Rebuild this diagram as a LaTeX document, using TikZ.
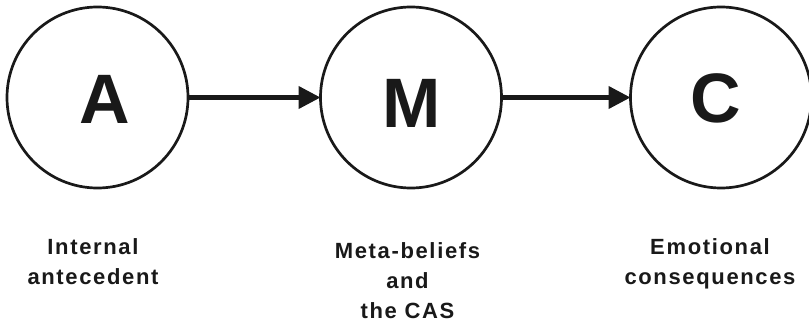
\documentclass[tikz,border=0pt]{standalone}
\usepackage{fontspec}
\setmainfont{Liberation Sans}
\newfontfamily\labelfont[LetterSpace=7.5]{Liberation Sans}
\usetikzlibrary{arrows.meta}
\begin{document}
\begin{tikzpicture}[x=1pt,y=-1pt,
  stage/.style={circle,draw=black!90,line width=2.7pt,minimum size=181pt,inner sep=0pt,outer sep=0pt},
  letter/.style={anchor=base,inner sep=0pt,font=\fontsize{70}{70}\selectfont\bfseries,text=black!90},
  caption/.style={anchor=base,inner sep=0pt,align=center,text=black!90,
    font=\fontsize{22}{30}\selectfont\labelfont\bfseries},
  link/.style={line width=4.2pt,draw=black!90,-{Triangle[length=22pt,width=22pt]},shorten <=-1pt}]
  \useasboundingbox (0,0) rectangle (809,321);

  % the three stages of the model
  \node[stage] (A) at (97.5,97.5) {};
  \node[stage] (M) at (411,97.5) {};
  \node[stage] (C) at (721,97.5) {};

  \node[letter] (la) at (105,123) {A};
  \node[letter] (lm) at (411.5,128) {M};
  \node[letter] (lc) at (715.5,122.5) {C};

  % links between the stages
  \draw[link] (A.east) -- (M.west);
  \draw[link] (M.east) -- (C.west);

  % descriptions under each stage (base anchor sits on the last line)
  \node[caption] (ta) at (93,284) {Internal\\antecedent};
  \node[caption] (tm) at (407.5,318) {Meta-beliefs\\and\\the CAS};
  \node[caption] (tc) at (710,284) {Emotional\\consequences};
\end{tikzpicture}
\end{document}
